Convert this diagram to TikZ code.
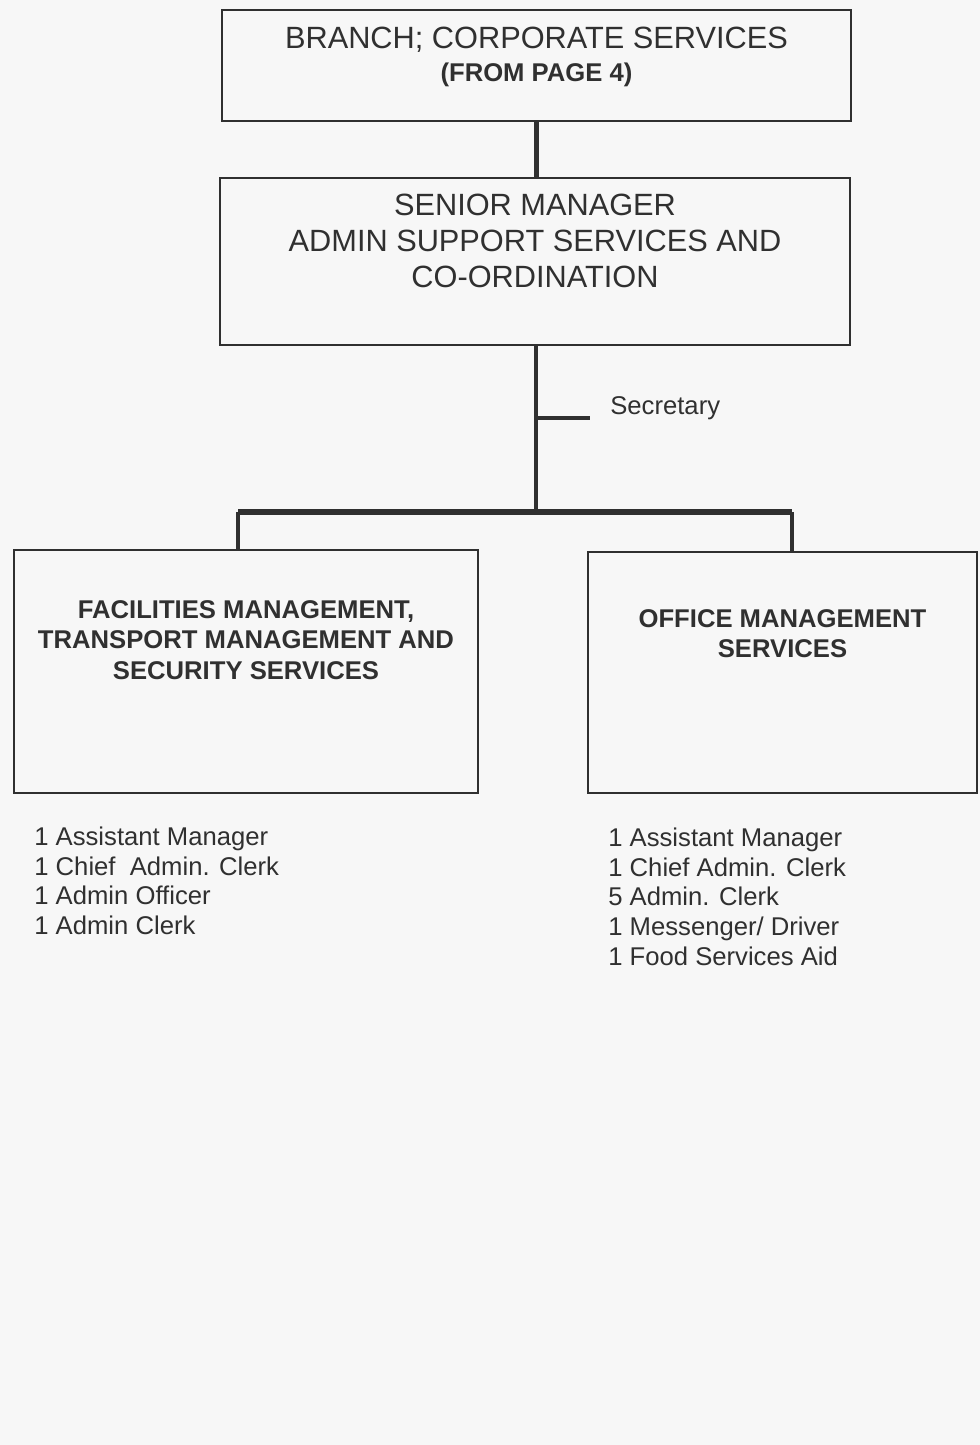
\documentclass[tikz,border=0pt]{standalone}
\usepackage{fontspec}
\setmainfont{Liberation Sans}
\usetikzlibrary{positioning}
\definecolor{ink}{HTML}{303030}
\definecolor{paper}{HTML}{F7F7F7}

\begin{document}
\begin{tikzpicture}
[x=0.02cm,y=-0.02cm,
 box/.style={draw=ink,line width=1.1pt,inner sep=0pt},
 link/.style={draw=ink,line width=2.7pt},
 big/.style={font=\fontsize{17.5}{20.5}\selectfont,text=ink,align=center,inner sep=0pt},
 head/.style={font=\bfseries\fontsize{14.6}{17.4}\selectfont,text=ink,align=center,inner sep=0pt},
 staff/.style={font=\fontsize{14.6}{16.8}\selectfont,text=ink,align=left,anchor=north west,inner sep=0pt}]
\path[use as bounding box,fill=paper] (0,0) rectangle (980,1445);
% boxes
\node[box,minimum width=12.58cm,minimum height=2.22cm](branch) at (536.5,65.5){};
\node[big,font=\fontsize{17.5}{18.4}\selectfont,below=0.36cm of branch.north](branchtxt){BRANCH; CORPORATE SERVICES\\{\bfseries\fontsize{14.6}{17}\selectfont(FROM PAGE 4)}};
\node[box,minimum width=12.6cm,minimum height=3.34cm](senior) at (535,261.5){};
\node[big,below=0.34cm of senior.north](seniortxt){SENIOR MANAGER\\ADMIN SUPPORT SERVICES AND\\CO-ORDINATION};
\node[box,minimum width=9.28cm,minimum height=4.86cm](facil) at (246,671.5){};
\node[head,below=1.02cm of facil.north](faciltxt){FACILITIES MANAGEMENT,\\TRANSPORT MANAGEMENT AND\\SECURITY SERVICES};
\node[box,minimum width=7.78cm,minimum height=4.82cm](office) at (782.5,672.5){};
\node[head,below=1.16cm of office.north](officetxt){OFFICE MANAGEMENT\\SERVICES};
% staff lists
\node[staff](facilstaff) at (34,827){1 Assistant Manager\\1 Chief\ \ Admin. Clerk\\1 Admin Officer\\1 Admin Clerk};
\node[staff](officestaff) at (608,828){1 Assistant Manager\\1 Chief Admin. Clerk\\5 Admin. Clerk\\1 Messenger/ Driver\\1 Food Services Aid};
% lines
\coordinate (bar) at (536,512);
\coordinate (barL) at (238,512);
\coordinate (barR) at (792,512);
\coordinate (tick) at (536,418);
\coordinate (tickend) at (590,418);
\node[font=\fontsize{14.6}{16.8}\selectfont,text=ink,anchor=west,inner sep=0pt](sec) at (610,408){Secretary};
\path[link] (branch.south) -- (branch.south |- senior.north);
\path[link] (senior.south -| bar) -- (bar);
\path[link] (tick) -- (tickend);
\path[link,line width=3.2pt] (barL) -- (barR);
\path[link] (barL) -- (barL |- facil.north);
\path[link] (barR) -- (barR |- office.north);
\end{tikzpicture}
\end{document}
